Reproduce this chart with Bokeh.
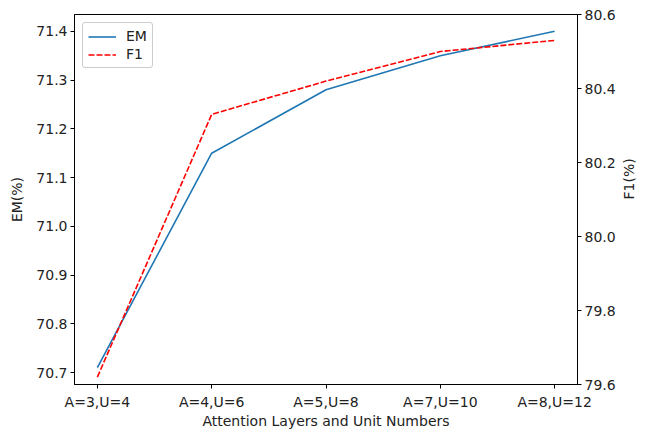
import math
from bokeh.plotting import figure
from bokeh.models import (Range1d, LinearAxis, FixedTicker, PrintfTickFormatter,
                          Legend, LegendItem, Label)
from bokeh.embed import file_html
from bokeh.resources import INLINE

categories = ["A=3,U=4", "A=4,U=6", "A=5,U=8", "A=7,U=10", "A=8,U=12"]
em_values = [70.71, 71.15, 71.28, 71.35, 71.40]
f1_values = [79.62, 80.33, 80.42, 80.50, 80.53]
em_ticks = [70.7, 70.8, 70.9, 71.0, 71.1, 71.2, 71.3, 71.4]
f1_ticks = [79.6, 79.8, 80.0, 80.2, 80.4, 80.6]
f1_lim = (79.6, 80.6)

xs = list(range(len(categories)))
FONT = "DejaVu Sans"
FS = "14px"

em_lo, em_hi = min(em_values), max(em_values)
pad = (em_hi - em_lo) * 0.05
x_lo, x_hi = -0.2, len(categories) - 1 + 0.2

p = figure(width=648, height=431, output_backend="svg", toolbar_location=None,
           x_range=Range1d(x_lo, x_hi),
           y_range=Range1d(em_lo - pad, em_hi + pad),
           min_border_left=74, min_border_right=71, min_border_top=14, min_border_bottom=44)
p.extra_y_ranges = {"f1": Range1d(*f1_lim)}
p.grid.visible = False
p.outline_line_color = "black"
p.outline_line_width = 1
p.background_fill_color = "white"
p.border_fill_color = "white"

def style_axis(ax):
    ax.axis_line_color = "black"
    ax.major_tick_line_color = "black"
    ax.major_tick_out = 4
    ax.major_tick_in = 0
    ax.minor_tick_line_color = None
    ax.major_label_text_font = FONT
    ax.major_label_text_font_size = FS
    ax.major_label_text_color = "#222222"
    ax.axis_label_text_font = FONT
    ax.axis_label_text_font_size = FS
    ax.axis_label_text_font_style = "normal"
    ax.axis_label_text_color = "#222222"
    ax.major_label_standoff = 3
    ax.axis_label_standoff = 4

xa = p.xaxis[0]
xa.ticker = FixedTicker(ticks=xs)
xa.major_label_overrides = {i: c for i, c in zip(xs, categories)}
xa.axis_label = "Attention Layers and Unit Numbers"
style_axis(xa)
xa.major_label_standoff = 5
xa.axis_label_standoff = 0

ya = p.yaxis[0]
ya.ticker = FixedTicker(ticks=em_ticks)
ya.formatter = PrintfTickFormatter(format="%.1f")
ya.axis_label = "EM(%)"
style_axis(ya)
ya.axis_label_standoff = 8

yr = LinearAxis(y_range_name="f1", ticker=FixedTicker(ticks=f1_ticks),
                formatter=PrintfTickFormatter(format="%.1f"))
style_axis(yr)
if "axis_label_orientation" in yr.properties():
    yr.axis_label = "F1(%)"
    yr.axis_label_orientation = math.pi / 2
    yr.axis_label_standoff = 10
p.add_layout(yr, "right")

if "axis_label_orientation" not in yr.properties():
    f1_label = Label(x=632, y=200, x_units="canvas", y_units="canvas",
                     text="F1(%)", angle=math.pi / 2,
                     text_align="center", text_baseline="middle",
                     text_font=FONT, text_font_size=FS, text_color="#222222")
    p.add_layout(f1_label)

r_em = p.line(xs, em_values, line_color="#1f77b4", line_width=1.6)
r_f1 = p.line(xs, f1_values, line_color="red", line_width=1.6, line_dash="6 2",
              y_range_name="f1")

legend = Legend(items=[LegendItem(label="EM", renderers=[r_em]),
                       LegendItem(label="F1", renderers=[r_f1])],
                location="top_left")
legend.label_text_font = FONT
legend.label_text_font_size = FS
legend.label_text_color = "#222222"
legend.border_line_color = "#cccccc"
legend.border_line_alpha = 1
legend.background_fill_alpha = 0.8
legend.margin = 8
legend.padding = 5
legend.spacing = 2
legend.glyph_width = 28
legend.glyph_height = 15
legend.label_standoff = 10
if "border_radius" in legend.properties():
    legend.border_radius = 3
p.add_layout(legend)

open("out.html", "w").write(file_html(p, INLINE))
